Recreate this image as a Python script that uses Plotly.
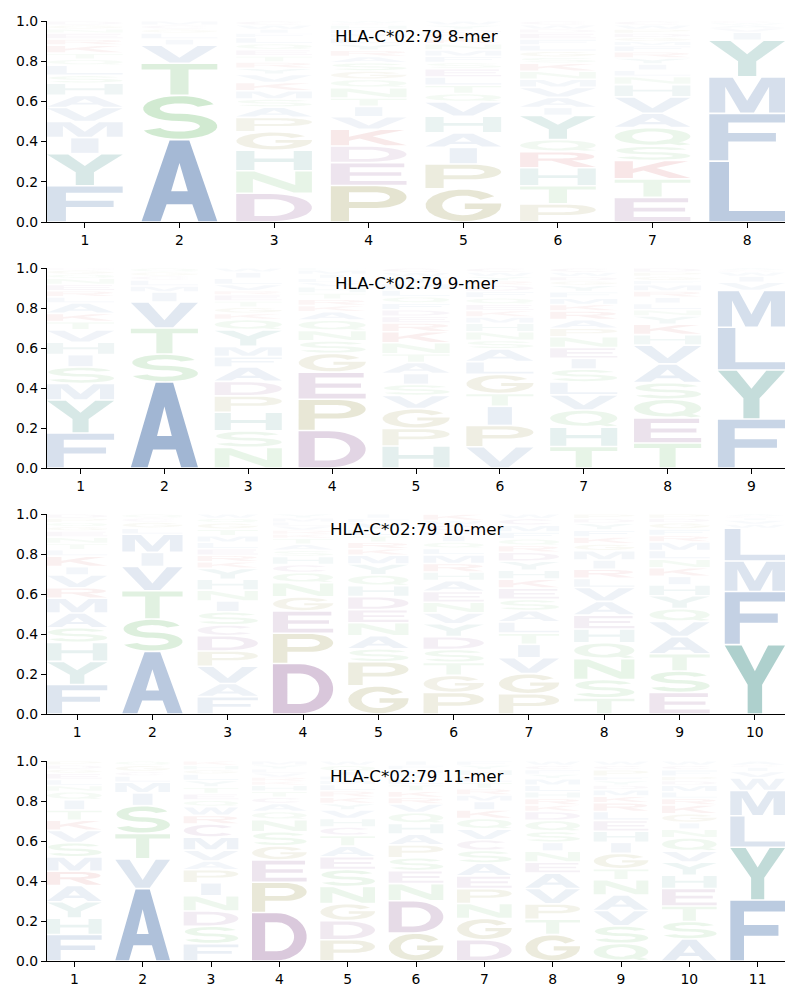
import numpy as np
import plotly.graph_objects as go
from plotly.subplots import make_subplots

# ---------------- data (letters listed bottom -> top, heights = frequency) ----------------
TITLES = ["HLA-C*02:79 8-mer", "HLA-C*02:79 9-mer", "HLA-C*02:79 10-mer", "HLA-C*02:79 11-mer"]
YTICKS = [0.0, 0.2, 0.4, 0.6, 0.8, 1.0]

mer8_letters = ["FYIMVAHSLQTKRENGD", "ASTVILGCM", "DNHGPASMKVYRTEQLFIWC", "PEDKVITNQGSARYLMFHCW",
                "GPIAHVQTLESFMNKRDYW", "PTHRQYIAVMNKSGLFEDWC", "ETKSQAVHNLIYRFMGDPWC", "LFMYIVAWC"]
mer8_heights = [[.18, .16, .08, .08, .07, .06, .06, .04, .05, .03, .03, .04, .03, .03, .02, .02, .02],
                [.41, .22, .16, .09, .03, .03, .02, .02, .02],
                [.14, .11, .10, .09, .07, .05, .04, .04, .04, .04, .03, .03, .03, .03, .03, .03, .02, .02, .02, .02],
                [.175, .11, .08, .08, .06, .05, .04, .05, .04, .04, .04, .03, .03, .03, .03, .02, .02, .02, .01, .01],
                [.16, .12, .08, .07, .08, .07, .04, .04, .04, .04, .03, .03, .03, .03, .03, .02, .02, .02, .02],
                [.09, .09, .09, .08, .06, .12, .04, .05, .05, .04, .04, .04, .03, .03, .03, .03, .03, .02, .02, .02],
                [.12, .09, .09, .07, .09, .07, .08, .06, .04, .03, .03, .03, .03, .03, .02, .02, .02, .02, .02, .02],
                [.30, .235, .18, .18, .04, .02, .015, .01, .01]]

mer9_letters = ["FYMSIHVTKALRENQGD", "ASTVIMLCGQ", "NSHPDAFMYQKGTERVLIW", "DPEGSNQAKRTHVLIMF",
                "HPGVSIATNKREDFQLMYWC", "VPITGLASNHMKEQFDRYWC", "THQVLSIENPARKMFYGDWC",
                "TEQSAVHKYNLIRMFGPD", "FYLMVIWCA"]
mer9_heights = [[.17, .16, .08, .08, .06, .06, .06, .04, .04, .05, .03, .03, .03, .03, .02, .02, .01],
                [.43, .14, .13, .13, .05, .03, .03, .02, .02, .02],
                [.10, .08, .09, .08, .07, .07, .05, .05, .08, .05, .03, .03, .03, .03, .02, .03, .03, .03, .02],
                [.18, .15, .13, .09, .06, .05, .05, .04, .03, .03, .03, .03, .02, .02, .02, .02, .01],
                [.10, .08, .09, .06, .05, .05, .05, .04, .05, .05, .04, .03, .03, .03, .03, .03, .03, .03, .02, .02],
                [.10, .10, .09, .06, .09, .06, .06, .04, .04, .04, .03, .03, .03, .03, .03, .03, .02, .02, .02, .02],
                [.10, .09, .08, .07, .06, .06, .05, .05, .05, .04, .04, .04, .03, .03, .03, .03, .02, .02, .02, .02],
                [.12, .12, .09, .08, .09, .09, .05, .05, .04, .03, .03, .03, .03, .03, .02, .02, .02, .02],
                [.24, .24, .21, .18, .04, .03, .02, .01, .01]]

mer10_letters = ["FYHSAMRVIKLTNEGQPD", "ASTVIMLGCQ", "FAVPDCSINHYKRELMTGQW", "DPEGNQCHSATKRVLMY",
                 "GPSANEDHQYMKRTLVFI", "PGTSDYVNEAHRMLQIFCWK", "PGVITLASEKHYDRQFMCW",
                 "TSNQHEAVLRIMGKFYDP", "ESTAVQYHIKNLMRFGDP", "YFMLWVICA"]
mer10_heights = [[.14, .11, .09, .07, .07, .07, .05, .06, .04, .05, .03, .03, .03, .03, .02, .02, .02, .02],
                 [.31, .16, .14, .12, .07, .09, .03, .03, .02, .02],
                 [.08, .06, .08, .07, .07, .05, .06, .05, .05, .05, .05, .03, .03, .03, .03, .03, .03, .03, .02, .02],
                 [.25, .15, .11, .07, .07, .05, .04, .04, .03, .03, .03, .02, .02, .02, .02, .02, .02],
                 [.13, .11, .06, .06, .06, .06, .06, .05, .05, .05, .04, .03, .03, .03, .03, .03, .02, .02],
                 [.10, .08, .06, .06, .06, .06, .05, .05, .05, .05, .04, .04, .04, .03, .03, .03, .02, .03, .02, .03],
                 [.09, .09, .07, .06, .05, .05, .05, .05, .05, .04, .04, .04, .04, .03, .03, .03, .03, .03, .02],
                 [.07, .08, .09, .07, .06, .06, .06, .06, .04, .04, .04, .04, .03, .03, .03, .03, .02, .02],
                 [.10, .10, .08, .08, .07, .06, .06, .05, .04, .04, .04, .04, .04, .03, .03, .03, .02, .02],
                 [.34, .26, .15, .16, .02, .02, .01, .01, .01]]

mer11_letters = ["FHYARMSVKTIQNLEGDP", "AVTSIMLCGQ", "FSDNIPAVMCRWQETYLGHK", "DPEGSNQACTHKRVLYM",
                 "PDGNSEATCHVYKRLMFIQW", "GDNESPAHQVRKTLYMFI", "DGNPEASCVQKIMRTLHYF",
                 "GTPVAENISQDKRHLMYFCW", "QSVANTGIHELRKMDYFPCW", "ASTEHYVQNIGKRLMDPFCW", "FYLMWVICA"]
mer11_heights = [[.13, .08, .08, .08, .07, .07, .07, .06, .05, .05, .05, .04, .03, .03, .03, .02, .02, .02],
                 [.34, .14, .12, .13, .06, .05, .03, .02, .03, .02],
                 [.08, .08, .07, .07, .06, .06, .04, .05, .06, .06, .04, .04, .03, .03, .03, .03, .03, .02, .02, .02],
                 [.24, .15, .11, .07, .07, .06, .04, .04, .03, .03, .03, .02, .02, .02, .02, .02, .02],
                 [.10, .09, .08, .08, .08, .06, .05, .05, .04, .04, .04, .03, .03, .03, .03, .02, .02, .02, .03, .02],
                 [.13, .15, .08, .06, .06, .06, .05, .05, .05, .04, .03, .03, .03, .03, .02, .02, .02, .02],
                 [.10, .10, .07, .07, .06, .06, .06, .05, .05, .05, .04, .04, .03, .03, .03, .03, .03, .02, .02],
                 [.12, .07, .07, .07, .07, .05, .05, .04, .05, .05, .04, .03, .03, .03, .03, .03, .02, .02, .02, .02],
                 [.08, .08, .07, .07, .07, .05, .07, .05, .05, .05, .04, .04, .03, .03, .02, .02, .02, .03, .02, .02],
                 [.10, .08, .07, .08, .06, .06, .05, .06, .04, .03, .04, .04, .03, .03, .03, .02, .02, .03, .02, .02],
                 [.29, .25, .15, .12, .06, .03, .02, .01, .02]]

PANELS = [(mer8_letters, mer8_heights), (mer9_letters, mer9_heights),
          (mer10_letters, mer10_heights), (mer11_letters, mer11_heights)]

# ---------------- style ----------------
BASE = {}
for c in "AILMVFW":
    BASE[c] = (91, 128, 179)      # blue
for c in "STNQ":
    BASE[c] = (103, 185, 103)     # green
for c in "DEC":
    BASE[c] = (144, 92, 149)      # purple
for c in "PG":
    BASE[c] = (150, 146, 70)      # olive
for c in "KR":
    BASE[c] = (200, 70, 74)       # red
for c in "HY":
    BASE[c] = (81, 154, 147)      # teal


def arc(cx, cy, rx, ry, a0, a1, n=22):
    t = np.radians(np.linspace(a0, a1, n))
    return [(cx + rx * np.cos(v), cy + ry * np.sin(v)) for v in t]


GLYPHS = {
    "A": [([(0, 0), (0.37, 1), (0.63, 1), (1, 0), (0.75, 0), (0.67, 0.21), (0.33, 0.21), (0.25, 0)], False),
          ([(0.39, 0.37), (0.61, 0.37), (0.5, 0.72)], True)],
    "C": [(arc(0.5, 0.5, 0.5, 0.5, 40, 320) + arc(0.5, 0.5, 0.27, 0.31, 320, 40), False)],
    "D": [([(0, 0)] + arc(0.45, 0.5, 0.55, 0.5, -90, 90) + [(0, 1)], False),
          ([(0.24, 0.19)] + arc(0.45, 0.5, 0.32, 0.31, -90, 90) + [(0.24, 0.81)], True)],
    "E": [([(0, 0), (1, 0), (1, 0.18), (0.25, 0.18), (0.25, 0.42), (0.93, 0.42), (0.93, 0.59),
            (0.25, 0.59), (0.25, 0.82), (0.97, 0.82), (0.97, 1), (0, 1)], False)],
    "F": [([(0, 0), (0.25, 0), (0.25, 0.41), (0.88, 0.41), (0.88, 0.59), (0.25, 0.59), (0.25, 0.82),
            (1, 0.82), (1, 1), (0, 1)], False)],
    "G": [(arc(0.5, 0.5, 0.5, 0.5, 35, 360) + [(1, 0.56), (0.52, 0.56), (0.52, 0.39), (0.78, 0.39)]
           + arc(0.5, 0.5, 0.28, 0.31, 340, 35), False)],
    "H": [([(0, 0), (0.24, 0), (0.24, 0.42), (0.76, 0.42), (0.76, 0), (1, 0), (1, 1), (0.76, 1),
            (0.76, 0.6), (0.24, 0.6), (0.24, 1), (0, 1)], False)],
    "I": [([(0.32, 0), (0.68, 0), (0.68, 1), (0.32, 1)], False)],
    "K": [([(0, 0), (0.24, 0), (0.24, 0.3), (0.38, 0.45), (0.72, 0), (1, 0), (0.55, 0.6), (0.97, 1),
            (0.66, 1), (0.24, 0.56), (0.24, 1), (0, 1)], False)],
    "L": [([(0, 0), (1, 0), (1, 0.17), (0.26, 0.17), (0.26, 1), (0, 1)], False)],
    "M": [([(0, 0), (0.21, 0), (0.21, 0.74), (0.41, 0), (0.59, 0), (0.79, 0.74), (0.79, 0), (1, 0),
            (1, 1), (0.69, 1), (0.5, 0.34), (0.31, 1), (0, 1)], False)],
    "N": [([(0, 0), (0.22, 0), (0.22, 0.64), (0.76, 0), (1, 0), (1, 1), (0.78, 1), (0.78, 0.36),
            (0.24, 1), (0, 1)], False)],
    "P": [([(0, 0), (0.24, 0), (0.24, 0.38)] + arc(0.6, 0.69, 0.4, 0.31, -90, 90) + [(0, 1)], False),
          ([(0.24, 0.55)] + arc(0.58, 0.69, 0.2, 0.14, -90, 90) + [(0.24, 0.83)], True)],
    "Q": [(arc(0.5, 0.52, 0.5, 0.48, 0, 360, 40), False),
          (arc(0.5, 0.52, 0.27, 0.3, 0, 360, 40), True),
          ([(0.55, 0.24), (0.7, 0.34), (1, 0.06), (0.85, 0)], False)],
    "R": [([(0, 0), (0.24, 0), (0.24, 0.42), (0.42, 0.42), (0.72, 0), (1, 0), (0.68, 0.46)]
           + arc(0.58, 0.71, 0.4, 0.29, -60, 90) + [(0, 1)], False),
          ([(0.24, 0.59)] + arc(0.56, 0.72, 0.2, 0.13, -90, 90) + [(0.24, 0.85)], True)],
    "S": [(arc(0.5, 0.7075, 0.48, 0.2925, 20, 270) + arc(0.5, 0.7075, 0.26, 0.1225, 270, 20), False),
          (arc(0.5, 0.2925, 0.5, 0.2925, 90, -160) + arc(0.5, 0.2925, 0.27, 0.1225, -160, 90), False)],
    "T": [([(0.38, 0), (0.62, 0), (0.62, 0.82), (1, 0.82), (1, 1), (0, 1), (0, 0.82), (0.38, 0.82)], False)],
    "V": [([(0, 1), (0.26, 1), (0.5, 0.28), (0.74, 1), (1, 1), (0.63, 0), (0.37, 0)], False)],
    "W": [([(0, 1), (0.17, 1), (0.29, 0.3), (0.41, 1), (0.59, 1), (0.71, 0.3), (0.83, 1), (1, 1),
            (0.82, 0), (0.62, 0), (0.5, 0.64), (0.38, 0), (0.18, 0)], False)],
    "Y": [([(0, 1), (0.28, 1), (0.5, 0.62), (0.72, 1), (1, 1), (0.62, 0.42), (0.62, 0), (0.38, 0),
            (0.38, 0.42)], False)],
}


def orient(poly, ccw):
    a = sum(x0 * y1 - x1 * y0 for (x0, y0), (x1, y1) in zip(poly, poly[1:] + poly[:1]))
    return poly if (a > 0) == ccw else poly[::-1]


def glyph_path(ch, xc, y0, h, w=0.8):
    gap = min(0.008, 0.25 * h)
    yb, ht = y0 + gap / 2, h - gap
    out = []
    for poly, hole in GLYPHS[ch]:
        pts = orient(list(poly), not hole)
        out.append("M" + "L".join(f"{xc - w / 2 + px * w:.4f},{yb + py * ht:.4f}" for px, py in pts) + "Z")
    return "".join(out)


def fill_color(ch, h):
    a = min(1.0, 0.015 + 1.3 * h)
    r, g, b = BASE[ch]
    return f"rgba({r},{g},{b},{a:.3f})"


# ---------------- figure ----------------
fig = make_subplots(rows=4, cols=1)
FONT = "DejaVu Sans, Arial, sans-serif"
ydoms = [(0.778, 0.979), (0.532, 0.732), (0.286, 0.486), (0.039, 0.239)]
shapes = []
for k, (letters, heights) in enumerate(PANELS):
    n = len(letters)
    sfx = "" if k == 0 else str(k + 1)
    positions = list(range(1, n + 1))
    fig.add_trace(go.Scatter(x=positions, y=[0] * n, mode="markers", marker=dict(opacity=0),
                             showlegend=False, hoverinfo="skip"), row=k + 1, col=1)
    for pos, (lets, vals) in enumerate(zip(letters, heights), start=1):
        vals = np.asarray(vals, dtype=float)
        vals = vals / vals.sum()
        y0 = 0.0
        for ch, h in zip(lets, vals):
            shapes.append(dict(type="path", path=glyph_path(ch, pos, y0, h),
                               xref="x" + sfx, yref="y" + sfx, fillcolor=fill_color(ch, h),
                               line=dict(width=0), fillrule="nonzero", layer="above"))
            y0 += h
    axis_common = dict(showline=True, linecolor="black", linewidth=1.1, ticks="outside",
                       ticklen=5, tickwidth=1.1, tickcolor="black", showgrid=False, zeroline=False,
                       tickfont=dict(family=FONT, size=13.9, color="black"), mirror=False,
                       automargin=False)
    fig.update_xaxes(range=[0.6, n + 0.4], tickvals=positions, ticktext=[str(p) for p in positions],
                     domain=[47 / 800, 785 / 800], row=k + 1, col=1, **axis_common)
    fig.update_yaxes(range=[0, 1], tickvals=YTICKS, ticktext=[f"{v:.1f}" for v in YTICKS],
                     domain=list(ydoms[k]), row=k + 1, col=1, **axis_common)
    fig.add_annotation(text=TITLES[k], x=0.5, y=0.925, xref=f"x{sfx} domain", yref=f"y{sfx} domain",
                       showarrow=False, xanchor="center", yanchor="middle",
                       font=dict(family=FONT, size=16.7, color="black"))

fig.update_layout(shapes=shapes, width=800, height=1000, margin=dict(l=0, r=0, t=0, b=0, pad=0),
                  paper_bgcolor="white", plot_bgcolor="white", showlegend=False, template="none")
fig.write_html("out.html")
